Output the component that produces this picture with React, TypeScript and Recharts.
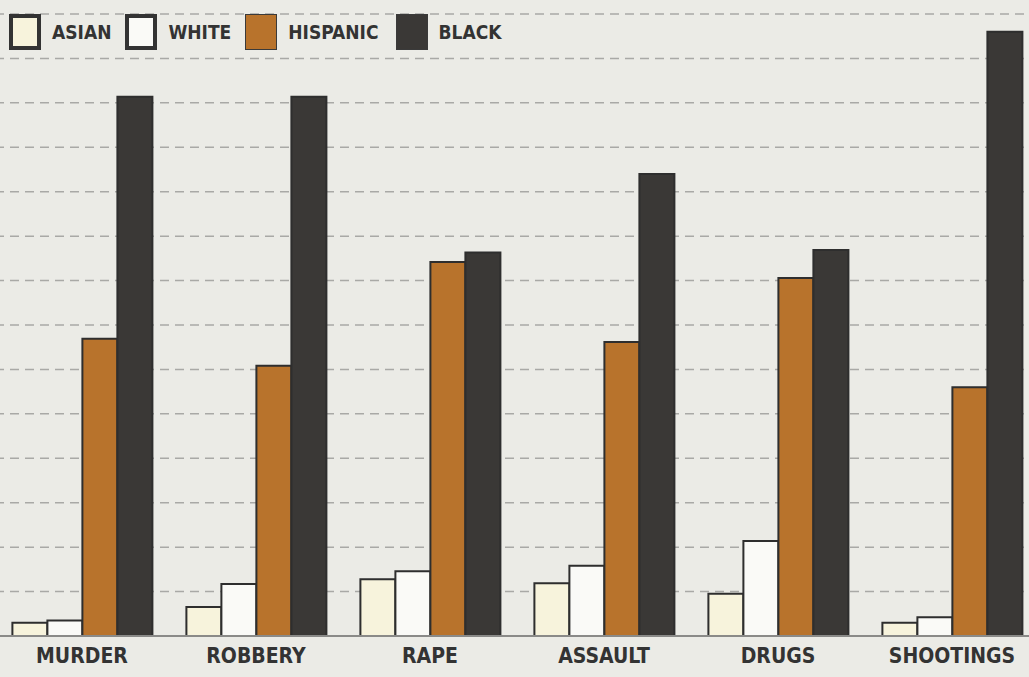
import React from 'react';
import { BarChart, Bar, XAxis, YAxis, CartesianGrid } from 'recharts';

const categories = ['MURDER', 'ROBBERY', 'RAPE', 'ASSAULT', 'DRUGS', 'SHOOTINGS'];
const asian = [0.3, 0.65, 1.28, 1.19, 0.95, 0.3];
const white = [0.35, 1.17, 1.46, 1.58, 2.14, 0.42];
const hispanic = [6.69, 6.08, 8.42, 6.62, 8.06, 5.6];
const black = [12.14, 12.14, 8.63, 10.4, 8.69, 13.6];
const yTicks = [0, 1, 2, 3, 4, 5, 6, 7, 8, 9, 10, 11, 12, 13, 14];

const seriesNames = ['ASIAN', 'WHITE', 'HISPANIC', 'BLACK'];
const seriesKeys = ['asian', 'white', 'hispanic', 'black'];
const seriesColors = ['#f7f3dc', '#fafaf7', '#b8732c', '#3a3836'];

const data = categories.map((c, i) => ({
  name: c,
  asian: asian[i],
  white: white[i],
  hispanic: hispanic[i],
  black: black[i],
}));

const FONT = '"DejaVu Sans Condensed", "DejaVu Sans", sans-serif';

const LegendBox = () => (
  <div
    style={{
      position: 'absolute',
      left: 9,
      top: 14,
      display: 'flex',
      alignItems: 'center',
      fontFamily: FONT,
    }}
  >
    {seriesNames.map((n, i) => (
      <div key={n} style={{ display: 'flex', alignItems: 'center', marginRight: [14, 14, 17, 0][i] }}>
        <div
          style={{
            width: 32,
            height: 36,
            background: seriesColors[i],
            border: i < 2 ? '4px solid #333' : '1px solid #3a3a3a',
            boxSizing: 'border-box',
          }}
        />
        <span
          style={{
            marginLeft: 11,
            fontWeight: 900,
            fontSize: 19,
            color: '#333',
          }}
        >
          {n}
        </span>
      </div>
    ))}
  </div>
);

export default function App() {
  return (
    <div
      style={{
        position: 'absolute',
        left: 0,
        top: 0,
        width: 1029,
        height: 677,
        background: '#ebebe6',
        overflow: 'hidden',
      }}
    >
      <div style={{ position: 'absolute', left: -5, top: 0 }}>
        <BarChart
          width={1044}
          height={677}
          data={data}
          margin={{ top: 14, right: 0, bottom: 0, left: 0 }}
          barCategoryGap="10%"
          barGap={0}
        >
          <CartesianGrid
            vertical={false}
            stroke="#a9a9a6"
            strokeDasharray="9 6"
            strokeWidth={1.5}
          />
          <YAxis hide domain={[0, 14]} ticks={yTicks} type="number" />
          <XAxis
            dataKey="name"
            height={41}
            tickLine={false}
            axisLine={{ stroke: '#8a8a88', strokeWidth: 2 }}
            tick={{ fill: '#333', fontSize: 21, fontWeight: 900, fontFamily: FONT }}
            tickMargin={6}
            interval={0}
          />
          {seriesKeys.map((k, i) => (
            <Bar
              key={k}
              dataKey={k}
              name={seriesNames[i]}
              fill={seriesColors[i]}
              stroke="#2e2e2e"
              strokeWidth={2}
              isAnimationActive={false}
            />
          ))}
        </BarChart>
      </div>
      <LegendBox />
    </div>
  );
}
